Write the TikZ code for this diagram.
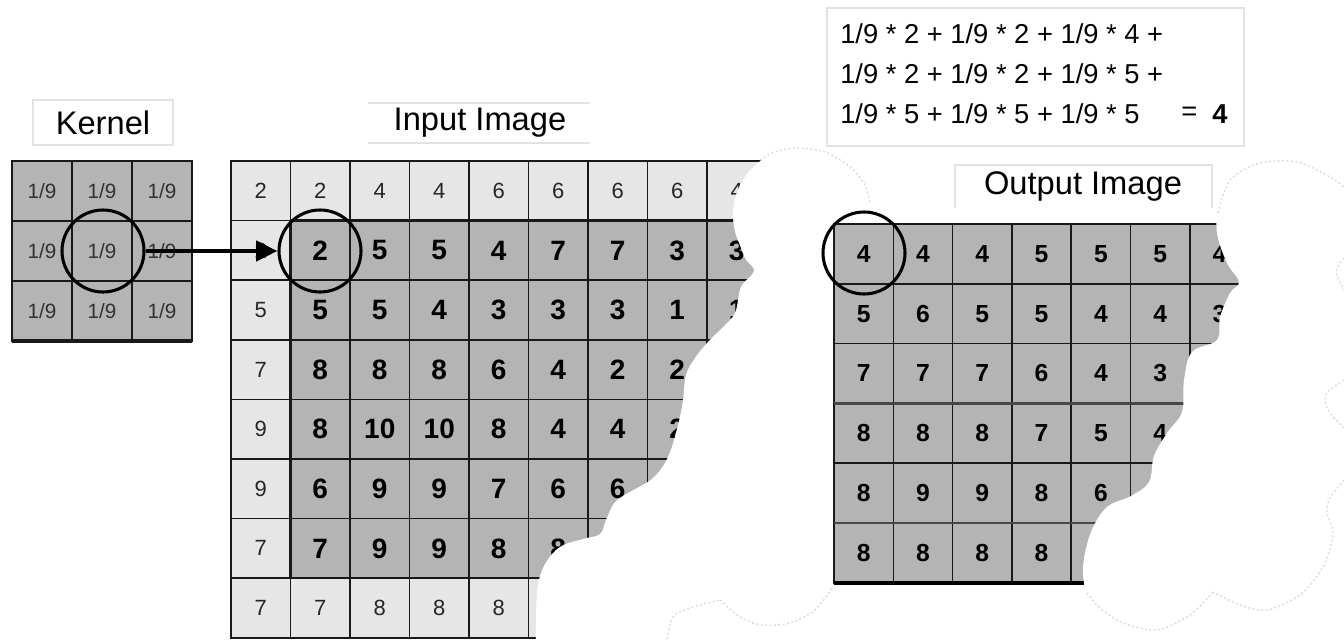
\documentclass[tikz,border=0pt]{standalone}
\usepackage{fontspec}
\setmainfont{Liberation Sans}
\usetikzlibrary{arrows.meta}
\definecolor{darkcell}{RGB}{180,180,180}
\definecolor{lightcell}{RGB}{230,230,230}
\definecolor{gridcol}{RGB}{25,25,25}
\definecolor{ktxt}{RGB}{50,50,50}
\definecolor{boxcol}{RGB}{226,226,226}
\definecolor{cloudcol}{RGB}{218,218,218}
\begin{document}
\begin{tikzpicture}[x=0.75pt,y=-0.75pt,
  cellbase/.style={draw=gridcol, line width=1.1pt, inner sep=0pt, outer sep=0pt},
  inlight/.style={cellbase, fill=lightcell, minimum width=44.625pt, minimum height=44.7pt, font=\fontsize{16.5pt}{18pt}\selectfont, text=black!85},
  indark/.style={cellbase, fill=darkcell, minimum width=44.625pt, minimum height=44.7pt, font=\bfseries\fontsize{21pt}{24pt}\selectfont},
  kcell/.style={cellbase, fill=darkcell, minimum size=45pt, font=\fontsize{15.5pt}{18pt}\selectfont, text=ktxt},
  outcell/.style={cellbase, fill=darkcell, minimum width=44.475pt, minimum height=44.85pt, font=\bfseries\fontsize{18.5pt}{21pt}\selectfont},
  cloudfill/.style={fill=white, draw=none},
  cloudline/.style={draw=cloudcol, line width=1pt, dash pattern=on 1.5pt off 1.8pt},
  ring/.style={circle, draw=black, line width=2.3pt, minimum size=61.5pt, inner sep=0pt},
  title/.style={font=\fontsize{24.5pt}{28pt}\selectfont, inner sep=0pt},
  formula/.style={font=\fontsize{20.5pt}{24pt}\selectfont, anchor=west, inner sep=0pt},
  boxline/.style={draw=boxcol, line width=1.5pt},
  link/.style={draw=black, line width=3pt, -{Triangle[length=16pt,width=15pt]}}
]
\useasboundingbox (0,0) rectangle (1344,639);
\clip (0,0) rectangle (1344,639);
\fill[white] (0,0) rectangle (1344,639);

% ---------- formula box ----------
\node[boxline, fill=white, minimum width=312.75pt, minimum height=103.5pt, anchor=north west, inner sep=0pt] (fbox) at (826,7) {};
\node[formula] (f1) at (840,34) {1/9 * 2 + 1/9 * 2 + 1/9 * 4 +};
\node[formula] (f2) at (840,74) {1/9 * 2 + 1/9 * 2 + 1/9 * 5 +};
\node[formula] (f3) at (840,114) {1/9 * 5 + 1/9 * 5 + 1/9 * 5};
\node[formula] (feq) at (1181,114) {=};
\node[formula, font=\bfseries\fontsize{20.5pt}{24pt}\selectfont] (fres) at (1212,114) {4};

% ---------- titles ----------
\node[title, boxline, minimum width=105pt, minimum height=33.75pt] (ktitle) at (103,122.5) {Kernel};
\node[title] (ititle) at (480,123) {Input Image};
\draw[boxline] (368,103) -- (590,103) (368,143) -- (590,143);
\node[title] (otitle) at (1083,186) {Output Image};
\draw[boxline] (955,208) -- (955,165) -- (1212,165) -- (1212,208);

% ---------- kernel ----------
\foreach \rr in {1,2,3}{
  \foreach \cc in {1,2,3}{
    \node[kcell] (k-\rr-\cc) at ({12+60*(\cc-0.5)},{161+60*(\rr-0.5)}) {1/9};
  }
}
\draw[gridcol, line width=1.8pt] (k-1-1.north west) rectangle (k-3-3.south east);
\draw[gridcol, line width=3pt] (k-3-1.south west) -- (k-3-3.south east);

% ---------- input image ----------
\foreach \rowvals [count=\rr] in {{2,2,4,4,6,6,6,6,4},{2,2,5,5,4,7,7,3,3},{5,5,5,4,3,3,3,1,1},{7,8,8,8,6,4,2,2,{}},{9,8,10,10,8,4,4,2,{}},{9,6,9,9,7,6,6,{},{}},{7,7,9,9,8,8,{},{},{}},{7,7,8,8,8,{},{},{},{}}}{
  \foreach \val [count=\cc] in \rowvals {
    \pgfmathtruncatemacro{\lt}{(\rr==1)||(\rr==8)||(\cc==1)}
    \ifnum\lt=1
      \node[inlight] (in-\rr-\cc) at ({231+59.5*(\cc-0.5)},{161+59.6*(\rr-0.5)}) {\val};
    \else
      \node[indark] (in-\rr-\cc) at ({231+59.5*(\cc-0.5)},{161+59.6*(\rr-0.5)}) {\val};
    \fi
  }
}
\draw[gridcol, line width=2.2pt] (in-2-2.north west) -- (in-2-9.north east);
\draw[gridcol, line width=2pt] (in-2-2.north west) -- (in-7-2.south west);
\draw[gridcol, line width=1.6pt] (in-7-2.south west) -- (in-7-9.south east);
\draw[gridcol, line width=1.8pt] (in-1-1.north west) -- (in-8-1.south west);

% ---------- cloud over the input image ----------
\fill[cloudfill] (800,215) circle[radius=67];
\fill[cloudfill] plot[smooth, tension=0.6] coordinates {(733,215) (737,235) (745,258) (754,271) (741,287) (735,313) (722,328) (708,342) (695,358) (686,375) (683,400) (678,425) (668,457) (653,478) (630,492) (615,502) (606,520) (600,534) (583,539) (560,547) (544,566) (537,593) (536,645)} -- (832,645) -- (832,215) -- cycle;
\draw[cloudline] plot[smooth] coordinates {(760,160) (775,152) (797,148) (825,152) (850,167) (865,185) (870,203)};
\draw[cloudline] plot[smooth] coordinates {(667,639) (673,617) (690,608) (720,600)};
\draw[cloudline] plot[smooth] coordinates {(720,600) (740,617) (762,625) (790,623) (815,610) (833,587)};

% ---------- output image ----------
\foreach \rowvals [count=\rr] in {{4,4,4,5,5,5,4},{5,6,5,5,4,4,3},{7,7,7,6,4,3,{}},{8,8,8,7,5,4,{}},{8,9,9,8,6,{},{}},{8,8,8,8,{},{},{}}}{
  \foreach \val [count=\cc] in \rowvals {
    \node[outcell] (out-\rr-\cc) at ({834+59.3*(\cc-0.5)},{224+59.8*(\rr-0.5)}) {\val};
  }
}
\draw[gridcol, line width=2pt] (out-1-1.north west) -- (out-1-7.north east);
\draw[gridcol, line width=1.6pt] (out-1-1.north west) -- (out-6-1.south west);
\draw[gridcol!80, line width=2pt] (out-3-1.south west) -- (out-3-7.south east);
\draw[gridcol!80, line width=2pt] (out-5-1.south west) -- (out-5-7.south east);
\draw[black, line width=3pt] (out-6-1.south west) -- (out-6-7.south east);

% ---------- cloud over the output image ----------
\fill[cloudfill] plot[smooth, tension=0.6] coordinates {(1344,187) (1330,177) (1297,162) (1260,163) (1232,180) (1219,205) (1217,233) (1227,263) (1239,282) (1230,293) (1220,317) (1217,340) (1192,352) (1184,380) (1182,412) (1167,433) (1154,456) (1149,482) (1131,496) (1107,507) (1091,532) (1083,567) (1086,600) (1087,645)} -- (1350,645) -- (1350,187) -- cycle;
\draw[cloudline] plot[smooth] coordinates {(1218,213) (1230,180) (1260,163) (1297,162) (1330,177) (1344,187)};
\draw[cloudline] plot[smooth] coordinates {(1344,258) (1336,272) (1344,290)};
\draw[cloudline] plot[smooth] coordinates {(1344,380) (1326,394) (1328,410) (1344,428)};
\draw[cloudline] plot[smooth] coordinates {(1344,480) (1330,498) (1327,512) (1333,535) (1323,567) (1300,595) (1267,610) (1240,605) (1213,592)};
\draw[cloudline] plot[smooth] coordinates {(1213,592) (1190,615) (1157,630) (1123,623) (1100,608) (1087,593)};

% ---------- rings and arrow ----------
\node[ring] (kring) at (103,251) {};
\node[ring] (iring) at (320,251) {};
\node[ring] (oring) at (864,253) {};
\draw[link] (kring) -- (iring);
\end{tikzpicture}
\end{document}
